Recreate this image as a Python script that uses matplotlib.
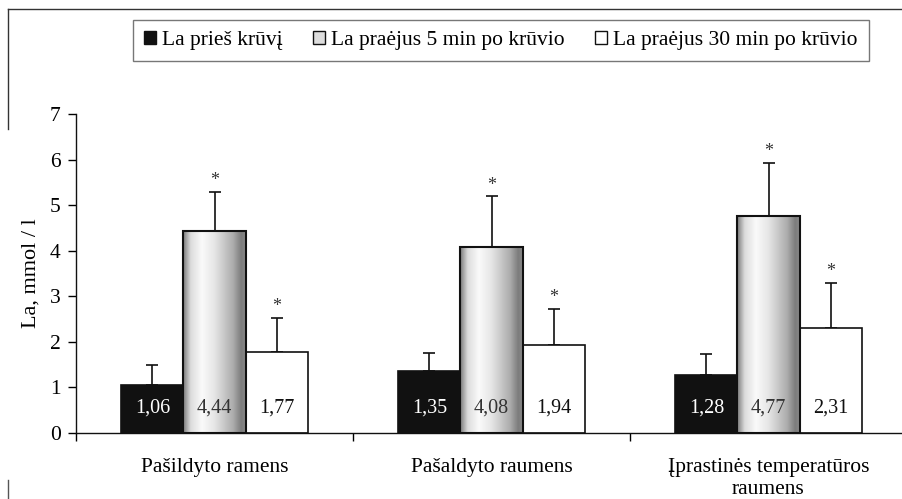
import numpy as np
import matplotlib
matplotlib.use("Agg")
import matplotlib.pyplot as plt
from matplotlib.patches import Patch
from matplotlib.lines import Line2D
from matplotlib.colors import LinearSegmentedColormap

plt.rcParams['font.family'] = ['Liberation Serif', 'DejaVu Serif']

categories = ['Pašildyto ramens', 'Pašaldyto raumens', 'Įprastinės temperatūros\nraumens']
series = ['La prieš krūvį', 'La praėjus 5 min po krūvio', 'La praėjus 30 min po krūvio']
before = [1.06, 1.35, 1.28]
after5 = [4.44, 4.08, 4.77]
after30 = [1.77, 1.94, 2.31]
sd_before = [0.44, 0.41, 0.45]
sd_after5 = [0.85, 1.12, 1.16]
sd_after30 = [0.76, 0.79, 0.99]
signif = [False, True, True]
value_labels = [['1,06', '1,35', '1,28'], ['4,44', '4,08', '4,77'], ['1,77', '1,94', '2,31']]

values = [before, after5, after30]
sds = [sd_before, sd_after5, sd_after30]

fig = plt.figure(figsize=(9.03, 4.99), dpi=100)
W, H = 903., 499.
ax = fig.add_axes([76/W, 66/H, 831/W, 319/H])

x = np.arange(len(categories))
bw = 0.224
offs = [-bw, 0, bw]
cyl = LinearSegmentedColormap.from_list('cyl', [(0, '#7a7a7a'), (0.12, '#dcdcdc'), (0.3, '#fafafa'),
                                                (0.5, '#e6e6e6'), (0.8, '#acacac'), (0.93, '#7c7c7c'),
                                                (1.0, '#8a8a8a')])
grad = np.linspace(0, 1, 200).reshape(1, -1)

for i in range(3):
    xs = x + offs[i]
    if i == 0:
        bars = ax.bar(xs, values[i], bw, color='#111111', edgecolor='#111111', lw=1.2, zorder=2)
    elif i == 1:
        bars = ax.bar(xs, values[i], bw, color='none', edgecolor='#111111', lw=1.5, zorder=3)
        for b in bars:
            im = ax.imshow(grad, cmap=cyl, aspect='auto', zorder=2,
                           extent=[b.get_x(), b.get_x() + bw, 0, b.get_height()])
            im.set_clip_path(b)
    else:
        bars = ax.bar(xs, values[i], bw, color='white', edgecolor='#111111', lw=1.2, zorder=2)
    ax.errorbar(xs, values[i], yerr=[np.zeros(3), sds[i]], fmt='none', ecolor='#111111',
                elinewidth=1.2, capsize=4.5, capthick=1.2, zorder=1)
    tc = ['white', '#333333', '#111111'][i]
    for j in range(3):
        ax.text(xs[j], 0.55, value_labels[i][j], ha='center', va='center', fontsize=14.5, color=tc, zorder=4)
        if signif[i]:
            ax.text(xs[j], values[i][j] + sds[i][j] + 0.24, '*', ha='center', va='center',
                    fontsize=13, color='#333333')

ax.set_xlim(-0.5, 2.5)
ax.set_ylim(0, 7)
ax.set_yticks(range(8))
ax.set_xticks(x)
ax.set_xticklabels(categories, fontsize=15.5, linespacing=1.25)
ax.set_xticks([-0.5, 0.5, 1.5, 2.5], minor=True)
ax.tick_params(axis='x', which='major', length=0, pad=18)
ax.tick_params(axis='x', which='minor', length=6, width=1, direction='out')
ax.tick_params(axis='y', length=6, width=1, direction='out', labelsize=15.5, pad=5)
for s in ['top', 'right']:
    ax.spines[s].set_visible(False)
for s in ['left', 'bottom']:
    ax.spines[s].set_linewidth(1)
    ax.spines[s].set_color('#111111')
ax.set_ylabel('La, mmol / l', fontsize=16, labelpad=7)

handles = [Patch(facecolor='#111111', edgecolor='#111111'),
           Patch(facecolor='#dddddd', edgecolor='#111111'),
           Patch(facecolor='white', edgecolor='#111111')]
leg = fig.legend(handles, series, loc='center', bbox_to_anchor=(501/W, 1 - 40.5/H), ncol=3,
                 fontsize=15.5, frameon=True, fancybox=False, edgecolor='#555555',
                 handlelength=0.55, handleheight=0.55, handletextpad=0.3, columnspacing=1.4,
                 borderpad=0.5)
leg.get_frame().set_linewidth(1)

# outer border fragments
fig.add_artist(Line2D([8/W, 1], [1 - 9/H, 1 - 9/H], color='#333333', lw=1))
fig.add_artist(Line2D([8/W, 8/W], [1 - 9/H, 1 - 129/H], color='#333333', lw=1))
fig.add_artist(Line2D([8/W, 8/W], [1 - 480/H, 0], color='#555555', lw=1))

fig.savefig('out.png', dpi=100)
